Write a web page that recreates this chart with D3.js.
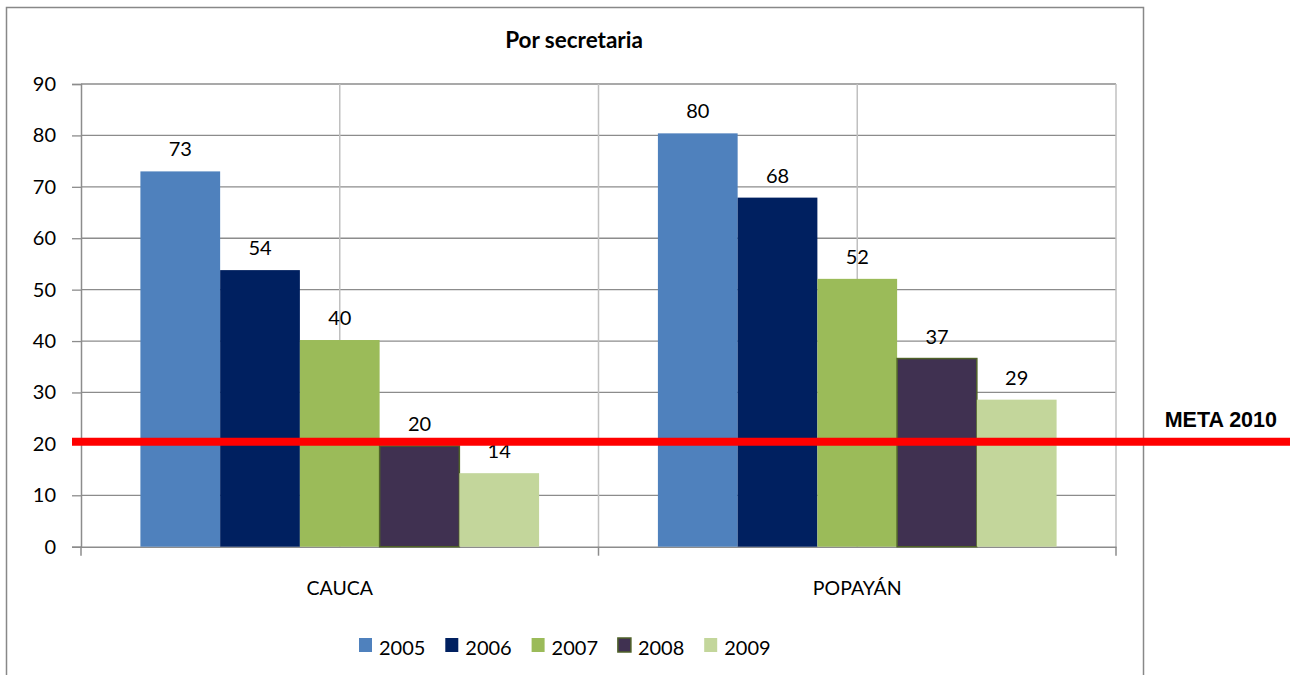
<!DOCTYPE html>
<html>
<head>
<meta charset="utf-8">
<script src="https://cdn.jsdelivr.net/npm/d3@7"></script>
<style>
  body { margin: 0; background: #fff; }
  svg { display: block; }
  text { font-family: Lato, "Open Sans", sans-serif; fill: #000; }
</style>
</head>
<body>
<div id="chart"></div>
<script>
// ---------------- data ----------------
const categories = ["CAUCA", "POPAYÁN"];
const years = ["2005", "2006", "2007", "2008", "2009"];
const valuesCauca = [73.0, 53.8, 40.2, 19.6, 14.3];
const valuesPopayan = [80.4, 67.9, 52.1, 36.6, 28.6];
const yTicks = [0, 10, 20, 30, 40, 50, 60, 70, 80, 90];
const metaValue = 20.4;
const metaLabel = "META 2010";
const title = "Por secretaria";
const colors = ["#4F81BD", "#002060", "#9BBB59", "#403151", "#C3D69B"];

const series = categories.map((c, i) => ({
  category: c,
  values: (i === 0 ? valuesCauca : valuesPopayan).map((v, j) => ({ year: years[j], value: v }))
}));

// ---------------- layout ----------------
const width = 1293, height = 675;
const plot = { left: 81, right: 1116, top: 84, bottom: 546.7 };

const svg = d3.select("#chart").append("svg")
  .attr("width", width)
  .attr("height", height);

// chart frame
svg.append("rect")
  .attr("x", 6.5).attr("y", 7.5)
  .attr("width", 1137).attr("height", 720)
  .attr("fill", "none")
  .attr("stroke", "#888")
  .attr("stroke-width", 1.5);

// scales
const x0 = d3.scaleBand().domain(categories).range([plot.left, plot.right]);
const x1 = d3.scaleBand().domain(years).range([0, x0.bandwidth()])
  .paddingInner(0).paddingOuter(0.745);
const y = d3.scaleLinear().domain([0, 90]).range([plot.bottom, plot.top]);

// horizontal gridlines
svg.append("g").selectAll("line")
  .data(yTicks.filter(d => d > 0))
  .enter().append("line")
  .attr("x1", plot.left).attr("x2", plot.right)
  .attr("y1", d => y(d)).attr("y2", d => y(d))
  .attr("stroke", "#8c8c8c").attr("stroke-width", 1.3);

// vertical gridlines (category centres and edges)
const vlines = [];
categories.forEach(c => {
  vlines.push(x0(c) + x0.bandwidth() / 2);
  vlines.push(x0(c) + x0.bandwidth());
});
svg.append("g").selectAll("line")
  .data(vlines)
  .enter().append("line")
  .attr("x1", d => d).attr("x2", d => d)
  .attr("y1", plot.top).attr("y2", plot.bottom)
  .attr("stroke", "#c0c0c0").attr("stroke-width", 1.5);

// y axis
const yAxis = d3.axisLeft(y).tickValues(yTicks).tickSize(9).tickPadding(16);
const gy = svg.append("g")
  .attr("transform", `translate(${plot.left},0)`)
  .call(yAxis);
gy.select(".domain").attr("stroke", "#8c8c8c").attr("stroke-width", 1.5);
gy.selectAll(".tick line").attr("stroke", "#8c8c8c").attr("stroke-width", 1.3);
gy.selectAll(".tick text")
  .style("font-family", "Lato, sans-serif")
  .style("font-size", "20px")
  .attr("fill", "#000");

// x axis
const xAxis = d3.axisBottom(x0).tickSize(0).tickPadding(34);
const gx = svg.append("g")
  .attr("transform", `translate(0,${plot.bottom})`)
  .call(xAxis);
gx.select(".domain").attr("stroke", "#8c8c8c").attr("stroke-width", 1.5);
gx.selectAll(".tick text")
  .style("font-family", "Lato, sans-serif")
  .style("font-size", "19.5px")
  .attr("fill", "#000");
// tick marks at category edges
const edges = [plot.left].concat(categories.map(c => x0(c) + x0.bandwidth()));
gx.selectAll(".edge")
  .data(edges)
  .enter().append("line")
  .attr("class", "edge")
  .attr("x1", d => d).attr("x2", d => d)
  .attr("y1", 0).attr("y2", 9)
  .attr("stroke", "#8c8c8c").attr("stroke-width", 1.5);

// bars
const groups = svg.selectAll(".group")
  .data(series)
  .enter().append("g")
  .attr("class", "group")
  .attr("transform", d => `translate(${x0(d.category)},0)`);

groups.selectAll("rect")
  .data(d => d.values)
  .enter().append("rect")
  .attr("x", d => x1(d.year))
  .attr("y", d => y(d.value))
  .attr("width", x1.bandwidth())
  .attr("height", d => plot.bottom - y(d.value))
  .attr("fill", (d, i) => colors[i])
  .attr("stroke", d => d.year === "2008" ? "#4F6228" : "none")
  .attr("stroke-width", 1.5);

groups.selectAll(".lbl")
  .data(d => d.values)
  .enter().append("text")
  .attr("class", "lbl")
  .attr("x", d => x1(d.year) + x1.bandwidth() / 2)
  .attr("y", d => y(d.value) - 15)
  .attr("text-anchor", "middle")
  .style("font-size", "20px")
  .text(d => d3.format(".0f")(d.value));

// title
svg.append("text")
  .attr("x", 574).attr("y", 48)
  .attr("text-anchor", "middle")
  .style("font-size", "22.5px")
  .style("font-weight", "bold")
  .text(title);

// meta line
svg.append("line")
  .attr("x1", 72).attr("x2", 1290)
  .attr("y1", y(metaValue)).attr("y2", y(metaValue))
  .attr("stroke", "#ff0000")
  .attr("stroke-width", 8);

svg.append("text")
  .attr("x", 1277).attr("y", 427)
  .attr("text-anchor", "end")
  .style("font-family", "'Liberation Sans', Arial, sans-serif")
  .style("font-size", "21.5px")
  .style("font-weight", "bold")
  .text(metaLabel);

// legend
const legend = svg.append("g").attr("transform", "translate(359,638)");
const items = legend.selectAll(".item")
  .data(years)
  .enter().append("g")
  .attr("class", "item")
  .attr("transform", (d, i) => `translate(${i * 86.3},0)`);
items.append("rect")
  .attr("width", 13).attr("height", 14)
  .attr("fill", (d, i) => colors[i])
  .attr("stroke", d => d === "2008" ? "#4F6228" : "none")
  .attr("stroke-width", 1.5);
items.append("text")
  .attr("x", 20).attr("y", 17)
  .style("font-size", "20px")
  .text(d => d);
</script>
</body>
</html>
